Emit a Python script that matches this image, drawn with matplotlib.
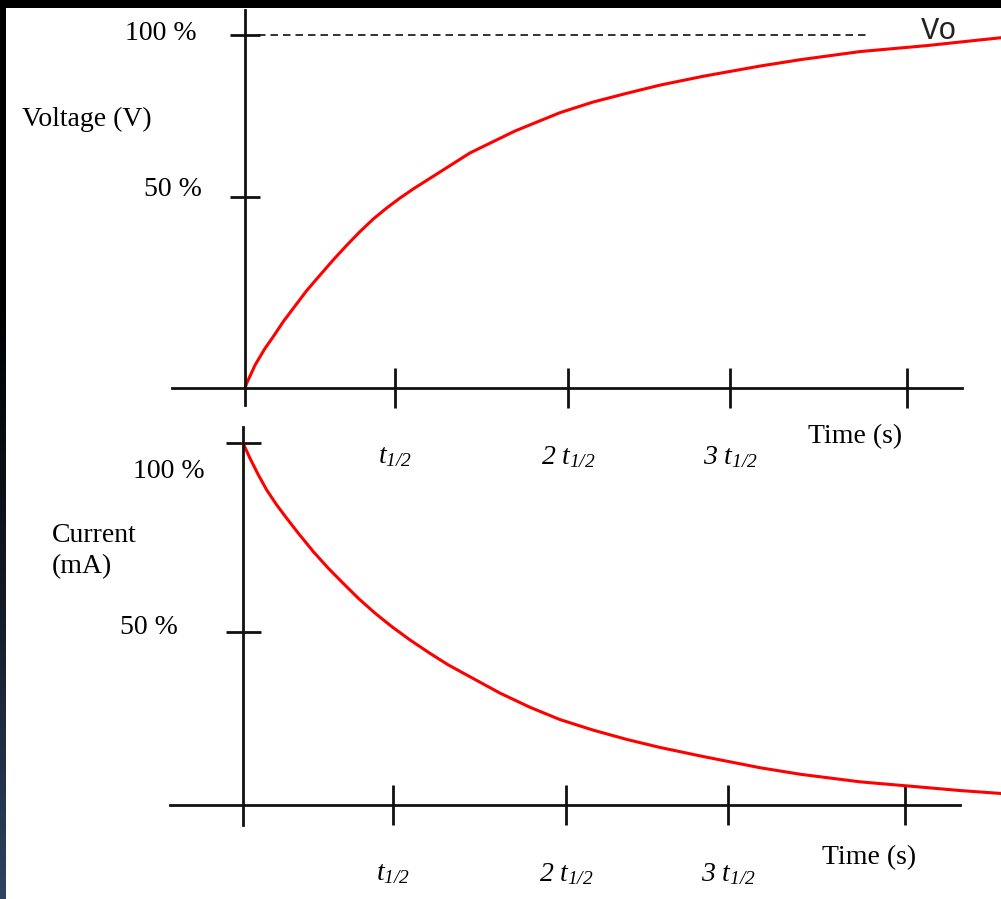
import numpy as np
import matplotlib
matplotlib.use("Agg")
import matplotlib.pyplot as plt
from matplotlib.patches import Rectangle
from matplotlib.colors import LinearSegmentedColormap

plt.rcParams['font.family'] = ['Liberation Serif', 'DejaVu Serif']
plt.rcParams['mathtext.fontset'] = 'custom'
plt.rcParams['mathtext.it'] = 'Liberation Serif:italic'
plt.rcParams['mathtext.rm'] = 'Liberation Serif:italic'

# ---------------- data ----------------
# time in units of ~t1/2 (axis origin = 0), values in % of the 100 % tick
t_charge = [0.0, 0.010, 0.061, 0.121, 0.172, 0.232, 0.293, 0.374, 0.455, 0.535,
            0.616, 0.697, 0.778, 0.859, 0.939, 1.020, 1.101, 1.364, 1.636, 1.909,
            2.109, 2.315, 2.515, 2.776, 3.121, 3.364, 3.727, 4.133, 4.333, 4.576]
v_charge = [0.0, 1.3, 6.5, 11.2, 14.6, 18.8, 22.6, 27.6, 32.0, 36.3,
            40.4, 44.3, 47.9, 51.0, 53.8, 56.4, 58.8, 66.6, 72.8, 78.0,
            81.0, 83.5, 85.8, 88.3, 91.2, 93.0, 95.3, 97.0, 98.0, 99.2]

t_discharge = [0.0, 0.042, 0.093, 0.144, 0.204, 0.265, 0.335, 0.426, 0.517, 0.608,
               0.699, 0.800, 0.901, 1.012, 1.133, 1.244, 1.558, 1.739, 1.921, 2.121,
               2.327, 2.527, 2.788, 3.133, 3.376, 3.739, 4.145, 4.345, 4.588]
i_discharge = [100.0, 95.8, 91.2, 87.0, 82.9, 79.2, 75.1, 70.0, 65.4, 61.2,
               57.1, 53.0, 49.3, 45.6, 41.9, 38.7, 30.9, 27.0, 23.6, 20.7,
               18.1, 15.9, 13.4, 10.3, 8.5, 6.4, 4.8, 4.0, 3.2]

v0_level = 100.0
t_ticks = [0.91, 1.96, 2.94, 4.01]
t_tick_labels = [r'$t_{1/2}$', r'$2\ t_{1/2}$', r'$3\ t_{1/2}$', '']
v_ticks = [54.1, 100.0]
i_ticks = [47.8, 100.0]
pct_labels = ['50 %', '100 %']

# ---------------- figure ----------------
W, H = 1001, 899
fig = plt.figure(figsize=(W / 100, H / 100), dpi=100)
fig.patch.set_facecolor('white')

# decorative frame: top black band, left dark gradient band
fig.add_artist(Rectangle((0, 1 - 8 / H), 1, 8 / H, transform=fig.transFigure,
                         facecolor='black', edgecolor='none', zorder=0))
band = fig.add_axes([0, 0, 6 / W, 1 - 8 / H])
band.axis('off')
grad = np.linspace(0, 1, 256).reshape(-1, 1)
cmap = LinearSegmentedColormap.from_list('band', ['#000000', '#000000', '#141a26', '#2e4262'])
band.imshow(grad, aspect='auto', cmap=cmap, extent=(0, 1, 0, 1), origin='upper')

AX_COL = '#111111'
px = 0.72  # points per pixel
FS = 20


def style_axes(ax, y_bounds):
    ax.set_facecolor('none')
    for s in ['top', 'right']:
        ax.spines[s].set_visible(False)
    ax.spines['left'].set_position(('data', 0))
    ax.spines['bottom'].set_position(('data', 0))
    ax.spines['left'].set_bounds(*y_bounds)
    ax.spines['bottom'].set_bounds(-0.442, 4.345)
    for s in ['left', 'bottom']:
        ax.spines[s].set_linewidth(2)
        ax.spines[s].set_color(AX_COL)
    ax.set_xticks(t_ticks)
    ax.set_xticklabels(t_tick_labels, fontsize=20)
    ax.tick_params(axis='x', direction='inout', length=40 * px, width=2,
                   color=AX_COL, pad=36 * px)


# ---------- top: voltage ----------
ax1 = fig.add_axes([0, 484 / H, 1, 415 / H])
ax1.set_xlim(-245 / 165, (W - 245) / 165)
ax1.set_ylim((388 - 415) / 3.53, 388 / 3.53)
style_axes(ax1, (-4.8, 107.1))
ax1.set_yticks(v_ticks)
ax1.set_yticklabels([])
ax1.tick_params(axis='y', direction='inout', length=30 * px, width=2, color=AX_COL)
ax1.plot(t_charge, v_charge, color='#ff0000', lw=2.2, solid_joinstyle='round', clip_on=False)
ax1.hlines(v0_level, 0.079, 3.788, colors=AX_COL, linestyles=(0, (4.5, 3)), lw=1.2)
v_offsets = [(-43, 8), (-48, 2)]
for val, lab, (dx, dy) in zip(v_ticks, pct_labels, v_offsets):
    ax1.annotate(lab, xy=(0, val), xytext=(dx * px, dy * px), textcoords='offset points',
                 ha='right', va='center', fontsize=FS)

# ---------- bottom: current ----------
ax2 = fig.add_axes([0, 0, 1, 484 / H])
ax2.set_xlim(-243 / 165, (W - 243) / 165)
ax2.set_ylim((805 - 899) / 3.62, (805 - 415) / 3.62)
style_axes(ax2, (-5.5, 104.4))
ax2.set_yticks(i_ticks)
ax2.set_yticklabels([])
ax2.tick_params(axis='y', direction='inout', length=35 * px, width=2, color=AX_COL)
ax2.plot(t_discharge, i_discharge, color='#ff0000', lw=2.2, solid_joinstyle='round', clip_on=False)
i_offsets = [(-65, 4), (-38, -28)]
for val, lab, (dx, dy) in zip(i_ticks, pct_labels, i_offsets):
    ax2.annotate(lab, xy=(0, val), xytext=(dx * px, dy * px), textcoords='offset points',
                 ha='right', va='center', fontsize=FS)

# ---------- free labels ----------
fig.text(22 / W, 1 - 119 / H, 'Voltage (V)', ha='left', va='center', fontsize=FS)
fig.text(52 / W, 1 - 551 / H, 'Current\n(mA)', ha='left', va='center', fontsize=FS,
         linespacing=1.3)
fig.text(808 / W, 1 - 437 / H, 'Time (s)', ha='left', va='center', fontsize=FS)
fig.text(822 / W, 1 - 858 / H, 'Time (s)', ha='left', va='center', fontsize=FS)
fig.text(921 / W, 1 - 31 / H, 'Vo', ha='left', va='center', fontsize=22,
         family='Liberation Mono', color='#222222')

fig.savefig('out.png', dpi=100)
